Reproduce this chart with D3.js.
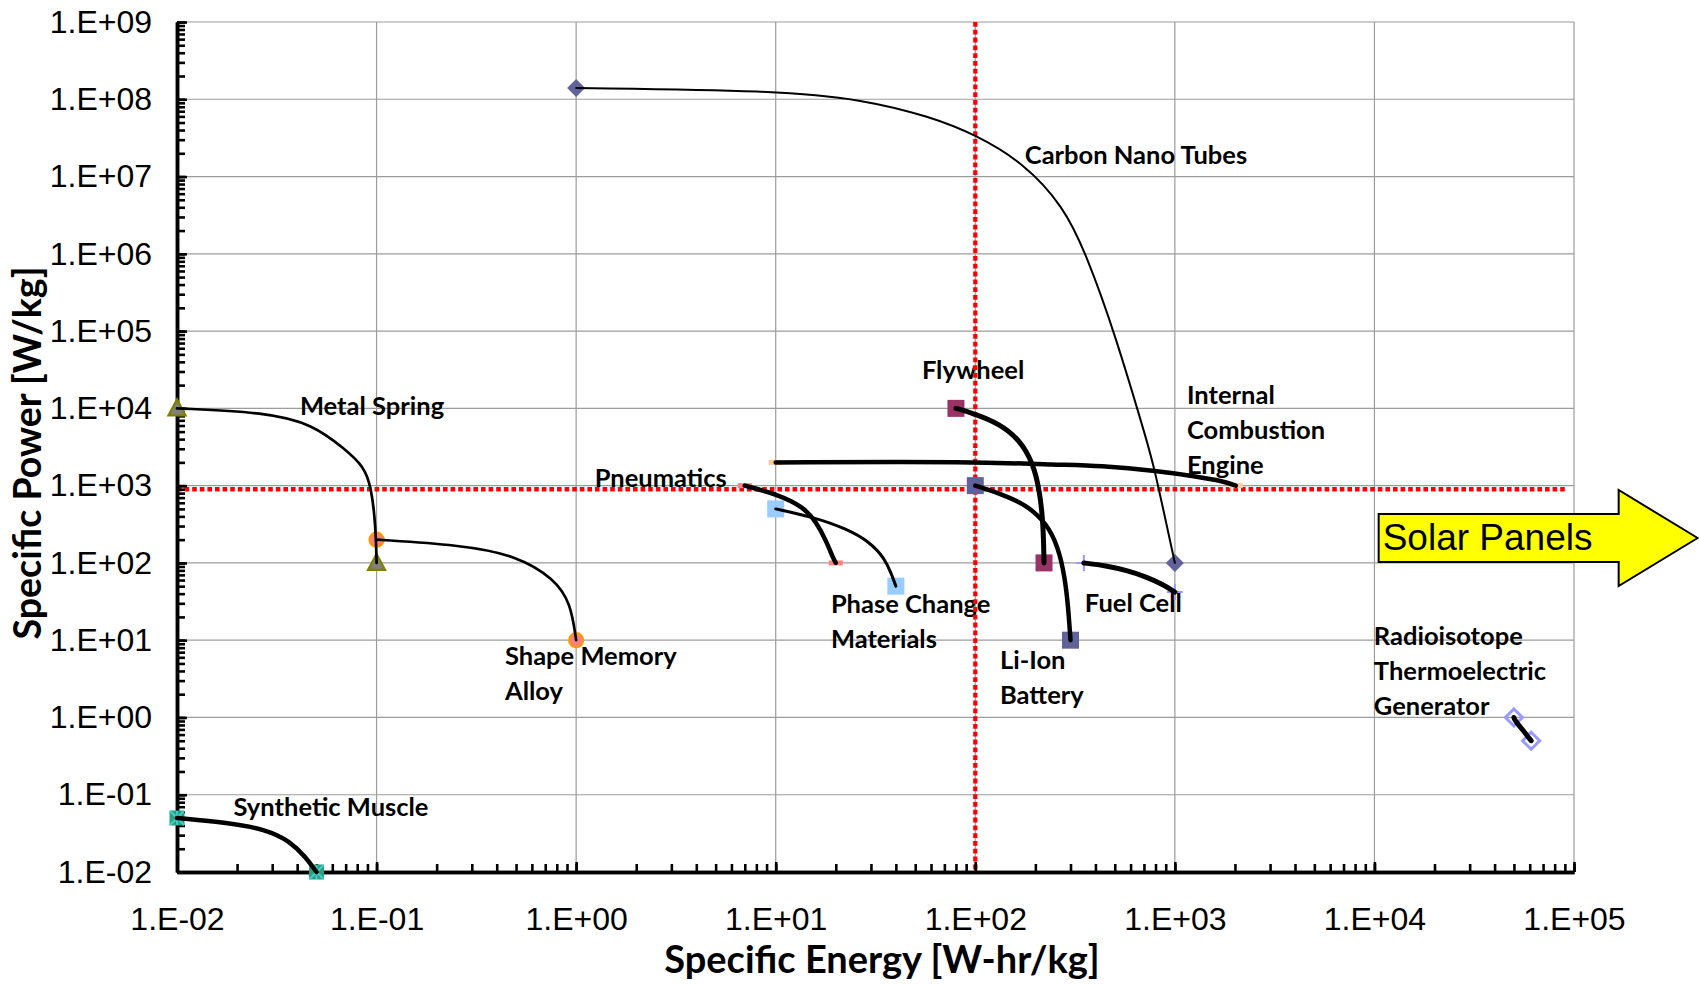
<!DOCTYPE html>
<html>
<head>
<meta charset="utf-8">
<script src="https://cdn.jsdelivr.net/npm/d3@7"></script>
<style>
  body { margin: 0; background: #fff; }
  svg { display: block; }
</style>
</head>
<body>
<div id="chart"></div>
<script>
/**
 * DATA
 * points are [specific energy W-hr/kg, specific power W/kg]
 * */
const xTickValues = [1e-2, 1e-1, 1e0, 1e1, 1e2, 1e3, 1e4, 1e5];
const xTickLabels = ["1.E-02", "1.E-01", "1.E+00", "1.E+01", "1.E+02", "1.E+03", "1.E+04", "1.E+05"];
const yTickValues = [1e-2, 1e-1, 1e0, 1e1, 1e2, 1e3, 1e4, 1e5, 1e6, 1e7, 1e8, 1e9];
const yTickLabels = ["1.E-02", "1.E-01", "1.E+00", "1.E+01", "1.E+02", "1.E+03",
  "1.E+04", "1.E+05", "1.E+06", "1.E+07", "1.E+08", "1.E+09"];

const carbonNanoTubes = [[1, 1.4e8], [10, 1.3e8], [27, 1.0e8], [59, 6.0e7], [100, 3.5e7], [175, 1.5e7],
  [277, 4.1e6], [359, 1.0e6], [500, 9.5e4], [738, 3.2e3], [785, 1.8e3], [1000, 100]];
const metalSpring = [[0.01, 1e4], [0.028, 8900], [0.048, 6200], [0.069, 3000], [0.086, 1800],
  [0.094, 980], [0.099, 300], [0.1, 100]];
const shapeMemoryAlloy = [[0.1, 200], [0.26, 171], [0.5, 126], [0.78, 62], [0.94, 30], [1, 10]];
const syntheticMuscle = [[0.01, 0.05], [0.018, 0.0435], [0.028, 0.0355], [0.037, 0.0248],
  [0.044, 0.0157], [0.05, 0.01]];
const internalCombustion = [[10, 2000], [100, 2040], [263, 1860], [417, 1820], [832, 1550],
  [1260, 1320], [1740, 1150], [2020, 1000]];
const flywheel = [[80, 1e4], [98, 8600], [133, 6300], [167, 3900], [195, 1940], [210, 870],
  [219, 324], [221, 100]];
const liIonBattery = [[100, 1000], [133, 794], [181, 562], [228, 324], [260, 162], [281, 66],
  [292, 27], [300, 10]];
const pneumatics = [[7, 1000], [10.5, 753], [13.7, 532], [16, 340], [18, 187], [19.4, 114], [20, 100]];
const phaseChange = [[10, 500], [15.4, 392], [22.6, 277], [29.6, 187], [35.2, 114], [38, 72], [40, 50]];
const fuelCell = [[350, 100], [451, 92], [573, 80], [721, 66], [873, 52.5], [1000, 42]];
const radioisotope = [[50000, 1], [50500, 0.92], [55600, 0.68], [58900, 0.56], [61000, 0.5]];

// reference lines
const energyThreshold = 100;
const powerThreshold = 900;

// label text and anchor (energy, power) of the first line
const seriesLabels = [
  { lines: ["Carbon Nano Tubes"], at: [177, 1.45e7] },
  { lines: ["Flywheel"], at: [54, 2.39e4] },
  { lines: ["Internal", "Combustion", "Engine"], at: [1150, 1.13e4] },
  { lines: ["Metal Spring"], at: [0.0413, 8170] },
  { lines: ["Pneumatics"], at: [1.24, 946] },
  { lines: ["Phase Change", "Materials"], at: [18.9, 22.8] },
  { lines: ["Shape Memory", "Alloy"], at: [0.44, 4.78] },
  { lines: ["Fuel Cell"], at: [354, 23.2] },
  { lines: ["Li-Ion", "Battery"], at: [133, 4.27] },
  { lines: ["Radioisotope", "Thermoelectric", "Generator"], at: [9930, 8.6] },
  { lines: ["Synthetic Muscle"], at: [0.0192, 0.0528] }
];

const solarPanels = { label: "Solar Panels", at: [1.05e4, 210] };

/**
 * STYLES
 * */
const series = [
  { data: carbonNanoTubes, width: 2, marker: "diamond", fill: "#63639c" },
  { data: metalSpring, width: 2.7, marker: "triangle", fill: "#808080", stroke: "#808000" },
  { data: shapeMemoryAlloy, width: 2.7, marker: "circle", fill: "#ff8080", stroke: "#ff9900" },
  { data: syntheticMuscle, width: 4.5, marker: "star", fill: "#2f9e7e", stroke: "#3fd0d0" },
  { data: internalCombustion, width: 4.5, marker: "dash", fill: "#ffcc99" },
  { data: flywheel, width: 5, marker: "square", fill: "#993366" },
  { data: liIonBattery, width: 4.5, marker: "square", fill: "#62629a" },
  { data: pneumatics, width: 4.5, marker: "dash", fill: "#ff8080" },
  { data: phaseChange, width: 3, marker: "square", fill: "#99ccff" },
  { data: fuelCell, width: 5, marker: "plus", stroke: "#9999ff" },
  { data: radioisotope, width: 5, marker: "diamondOpen", stroke: "#9999ff" }
];

const width = 1699,
  height = 985;

const x = d3.scaleLog().domain([1e-2, 1e5]).range([177, 1574]);
const y = d3.scaleLog().domain([1e-2, 1e9]).range([872, 22]);

const svg = d3.select("#chart")
  .append("svg")
  .attr("width", width)
  .attr("height", height);

// gridlines
svg.append("g")
  .selectAll("line")
  .data(xTickValues)
  .join("line")
  .attr("x1", d => x(d)).attr("x2", d => x(d))
  .attr("y1", y.range()[0]).attr("y2", y.range()[1])
  .attr("stroke", "#9c9c9c").attr("stroke-width", 1.2);

svg.append("g")
  .selectAll("line")
  .data(yTickValues)
  .join("line")
  .attr("y1", d => y(d)).attr("y2", d => y(d))
  .attr("x1", x.range()[0]).attr("x2", x.range()[1])
  .attr("stroke", "#9c9c9c").attr("stroke-width", 1.2);

// series labels
const labelFont = "Lato, 'Open Sans', sans-serif";
seriesLabels.forEach(l => {
  const t = svg.append("text")
    .attr("x", x(l.at[0]))
    .attr("y", y(l.at[1]))
    .attr("font-family", labelFont)
    .attr("font-weight", 700)
    .attr("font-size", 25.5)
    .attr("fill", "#000");
  l.lines.forEach((s, i) => {
    t.append("tspan").attr("x", x(l.at[0])).attr("dy", i === 0 ? 0 : 35).text(s);
  });
});

// red reference lines
svg.append("line")
  .attr("x1", x.range()[0]).attr("x2", x(9.2e4))
  .attr("y1", y(powerThreshold)).attr("y2", y(powerThreshold))
  .attr("stroke", "#ff0000").attr("stroke-width", 4.5)
  .attr("stroke-dasharray", "4.6,3");

svg.append("line")
  .attr("x1", x(energyThreshold)).attr("x2", x(energyThreshold))
  .attr("y1", y.range()[1]).attr("y2", y.range()[0])
  .attr("stroke", "#ff0000").attr("stroke-width", 4.2)
  .attr("stroke-dasharray", "4.8,3");

// axes
const tickFont = "'Liberation Sans', Arial, sans-serif";

function styleAxis(g) {
  g.attr("font-family", tickFont).attr("font-size", 32);
  g.select(".domain").attr("stroke", "#000").attr("stroke-width", 3.5);
  g.selectAll(".tick line").attr("stroke", "#000").attr("stroke-width", 2.6);
  g.selectAll(".tick text").attr("fill", "#000");
}

svg.append("g")
  .attr("transform", `translate(${x.range()[0]},0)`)
  .call(d3.axisLeft(y).tickValues(y.ticks(40)).tickFormat("").tickSizeInner(-8).tickSizeOuter(0))
  .call(styleAxis);

svg.append("g")
  .attr("transform", `translate(${x.range()[0]},0)`)
  .call(d3.axisLeft(y).tickValues(yTickValues)
    .tickFormat((d, i) => yTickLabels[i]).tickSizeInner(-10).tickSizeOuter(0).tickPadding(25))
  .call(styleAxis);

svg.append("g")
  .attr("transform", `translate(0,${y.range()[0]})`)
  .call(d3.axisBottom(x).tickValues(x.ticks(40)).tickFormat("").tickSizeInner(-8).tickSizeOuter(0))
  .call(styleAxis);

svg.append("g")
  .attr("transform", `translate(0,${y.range()[0]})`)
  .call(d3.axisBottom(x).tickValues(xTickValues)
    .tickFormat((d, i) => xTickLabels[i]).tickSizeInner(-10).tickSizeOuter(0).tickPadding(35))
  .call(styleAxis);

// markers
function drawMarker(g, s, p) {
  const cx = x(p[0]), cy = y(p[1]);
  if (s.marker === "diamond") {
    g.append("path")
      .attr("d", `M${cx},${cy - 9}L${cx + 9},${cy}L${cx},${cy + 9}L${cx - 9},${cy}Z`)
      .attr("fill", s.fill);
  } else if (s.marker === "diamondOpen") {
    g.append("path")
      .attr("d", `M${cx},${cy - 8.5}L${cx + 8.5},${cy}L${cx},${cy + 8.5}L${cx - 8.5},${cy}Z`)
      .attr("fill", "none").attr("stroke", s.stroke).attr("stroke-width", 3);
  } else if (s.marker === "triangle") {
    g.append("path")
      .attr("d", `M${cx},${cy - 9}L${cx + 8.5},${cy + 7}L${cx - 8.5},${cy + 7}Z`)
      .attr("fill", s.fill).attr("stroke", s.stroke).attr("stroke-width", 2.2);
  } else if (s.marker === "circle") {
    g.append("circle")
      .attr("cx", cx).attr("cy", cy).attr("r", 7)
      .attr("fill", s.fill).attr("stroke", s.stroke).attr("stroke-width", 2.2);
  } else if (s.marker === "square") {
    g.append("rect")
      .attr("x", cx - 8.5).attr("y", cy - 8.5).attr("width", 17).attr("height", 17)
      .attr("fill", s.fill);
  } else if (s.marker === "star") {
    g.append("rect")
      .attr("x", cx - 7.5).attr("y", cy - 7.5).attr("width", 15).attr("height", 15)
      .attr("fill", s.fill);
    g.append("path")
      .attr("d", `M${cx - 7},${cy - 7}L${cx + 7},${cy + 7}M${cx + 7},${cy - 7}L${cx - 7},${cy + 7}M${cx},${cy - 7}L${cx},${cy + 7}`)
      .attr("stroke", s.stroke).attr("stroke-width", 1.8);
  } else if (s.marker === "dash") {
    g.append("rect")
      .attr("x", cx - 7).attr("y", cy - 2.5).attr("width", 14).attr("height", 5)
      .attr("fill", s.fill);
  } else if (s.marker === "plus") {
    g.append("path")
      .attr("d", `M${cx - 8},${cy}L${cx + 8},${cy}M${cx},${cy - 8}L${cx},${cy + 8}`)
      .attr("stroke", s.stroke).attr("stroke-width", 2);
  }
}

const markerLayer = svg.append("g");
series.forEach(s => {
  drawMarker(markerLayer, s, s.data[0]);
  drawMarker(markerLayer, s, s.data[s.data.length - 1]);
});

// curves (smoothed through the read points)
const line = d3.line()
  .x(d => x(d[0]))
  .y(d => y(d[1]))
  .curve(d3.curveBasis);

svg.append("g")
  .selectAll("path")
  .data(series)
  .join("path")
  .attr("d", d => line(d.data))
  .attr("fill", "none")
  .attr("stroke", "#000")
  .attr("stroke-width", d => d.width)
  .attr("stroke-linecap", "round")
  .attr("stroke-linejoin", "round");

// axis titles
svg.append("text")
  .attr("x", 882)
  .attr("y", 973)
  .attr("text-anchor", "middle")
  .attr("font-family", labelFont)
  .attr("font-weight", 700)
  .attr("font-size", 38)
  .text("Specific Energy [W-hr/kg]");

svg.append("text")
  .attr("transform", "translate(41,453) rotate(-90)")
  .attr("text-anchor", "middle")
  .attr("font-family", labelFont)
  .attr("font-weight", 700)
  .attr("font-size", 37.5)
  .text("Specific Power [W/kg]");

// solar panels arrow
{
  const ax = x(solarPanels.at[0]),
    cy = y(solarPanels.at[1]);
  const pts = [[ax, cy - 24], [ax + 240, cy - 24], [ax + 240, cy - 48], [ax + 319, cy],
    [ax + 240, cy + 48], [ax + 240, cy + 24], [ax, cy + 24]];
  svg.append("path")
    .attr("d", d3.line()(pts) + "Z")
    .attr("fill", "#ffff00")
    .attr("stroke", "#000")
    .attr("stroke-width", 2);
  svg.append("text")
    .attr("x", ax + 4)
    .attr("y", cy + 12)
    .attr("font-family", tickFont)
    .attr("font-size", 37)
    .text(solarPanels.label);
}
</script>
</body>
</html>
